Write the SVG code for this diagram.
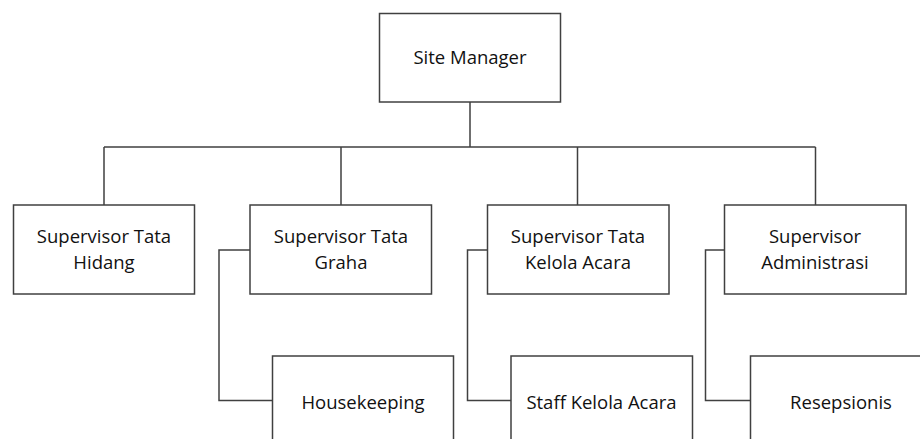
<svg xmlns="http://www.w3.org/2000/svg" width="920" height="439" viewBox="0 0 920 439">
<style>
.box{fill:#ffffff;stroke:#404040;stroke-width:1.5}
.ln{fill:none;stroke:#404040;stroke-width:1.5}
text{font-family:"Open Sans","Liberation Sans",sans-serif;font-size:18.5px;fill:#111;text-anchor:middle}
</style>
<rect width="920" height="439" fill="#ffffff"/>
<g id="connectors">
<path class="ln" d="M470 102V147M104 147H815.5M104 147V205M341 147V205M577.5 147V205M815.5 147V205"/>
<path class="ln" d="M250 250H219V400.5H272.5"/>
<path class="ln" d="M487.5 250H467.5V400.5H511"/>
<path class="ln" d="M724.5 250H705.5V400.5H750.5"/>
</g>
<g id="site-manager"><rect class="box" x="379.5" y="13.5" width="181" height="88.5"/><text x="470" y="64">Site Manager</text></g>
<g id="sup-hidang"><rect class="box" x="13.5" y="205" width="181" height="89"/><text x="104" y="243">Supervisor Tata</text><text x="104" y="269">Hidang</text></g>
<g id="sup-graha"><rect class="box" x="250" y="205" width="181.5" height="89"/><text x="341" y="243">Supervisor Tata</text><text x="341" y="269">Graha</text></g>
<g id="sup-kelola"><rect class="box" x="487.5" y="205" width="181.5" height="89"/><text x="578" y="243">Supervisor Tata</text><text x="578" y="269">Kelola Acara</text></g>
<g id="sup-admin"><rect class="box" x="724.5" y="205" width="181.5" height="89"/><text x="815" y="243">Supervisor</text><text x="815" y="269">Administrasi</text></g>
<g id="housekeeping"><rect class="box" x="272.5" y="356" width="181" height="100"/><text x="363" y="409">Housekeeping</text></g>
<g id="staff-kelola"><rect class="box" x="511" y="356" width="181.5" height="100"/><text x="601.5" y="409">Staff Kelola Acara</text></g>
<g id="resepsionis"><rect class="box" x="750.5" y="356" width="181" height="100"/><text x="841" y="409">Resepsionis</text></g>
</svg>
